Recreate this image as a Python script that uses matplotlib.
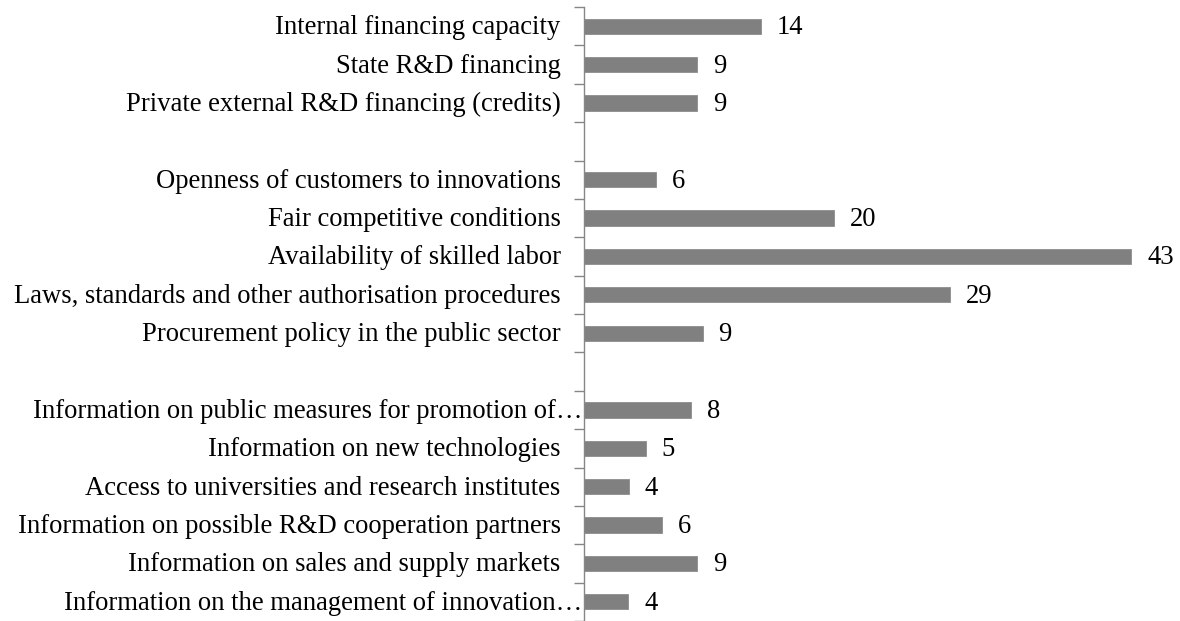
import matplotlib
matplotlib.use("Agg")
import matplotlib.pyplot as plt
import matplotlib.transforms as mtransforms
import numpy as np

plt.rcParams['font.family'] = ['Liberation Serif', 'DejaVu Serif']

# top to bottom, "" marks an empty gap row
categories = [
    "Internal financing capacity",
    "State R&D financing",
    "Private external R&D financing (credits)",
    "",
    "Openness of customers to innovations",
    "Fair competitive conditions",
    "Availability of skilled labor",
    "Laws, standards and other authorisation procedures",
    "Procurement policy in the public sector",
    "",
    "Information on public measures for promotion of\u2026",
    "Information on new technologies",
    "Access to universities and research institutes",
    "Information on possible R&D cooperation partners",
    "Information on sales and supply markets",
    "Information on the management of innovation\u2026",
]
values = [13.95, 8.96, 8.96, None, 5.67, 19.7, 43.1, 28.8, 9.37, None,
          8.43, 4.88, 3.54, 6.14, 8.96, 3.53]
truncated = [10, 15]

fs = 19.2
fig = plt.figure(figsize=(11.8, 6.21), dpi=100)
ax = fig.add_axes([0.4945, 0.0, 0.4955, 0.9887])

ypos = np.arange(len(categories))
for y, v in zip(ypos, values):
    if v is None:
        continue
    ax.barh(y, v, height=0.40, color='#808080', edgecolor='#8c8c8c', linewidth=0.6)
    ax.text(v, y, f"{v:.0f}", transform=mtransforms.offset_copy(ax.transData, fig, x=16, y=-8, units='dots'),
            ha='left', va='baseline', fontsize=fs, color='black')

ax.set_ylim(len(categories) - 0.5, -0.5)
ax.set_xlim(0, 46)

# category labels drawn as text so the clipped ones can run up to the axis
for y, lab in zip(ypos, categories):
    off = -1 if y in truncated else -23
    ax.text(0, y, lab, transform=mtransforms.offset_copy(
                mtransforms.blended_transform_factory(ax.transAxes, ax.transData), fig, x=off, y=-8, units='dots'),
            ha='right', va='baseline', fontsize=fs, color='black')

ax.set_yticks([])
ax.set_yticks(np.arange(len(categories) + 1) - 0.5, minor=True)
ax.tick_params(axis='y', which='minor', length=7, width=1, color='#868686', direction='out')
ax.set_xticks([])
for s in ['top', 'right', 'bottom']:
    ax.spines[s].set_visible(False)
ax.spines['left'].set_color('#868686')
ax.spines['left'].set_linewidth(1)

fig.savefig('out.png', dpi=100)
